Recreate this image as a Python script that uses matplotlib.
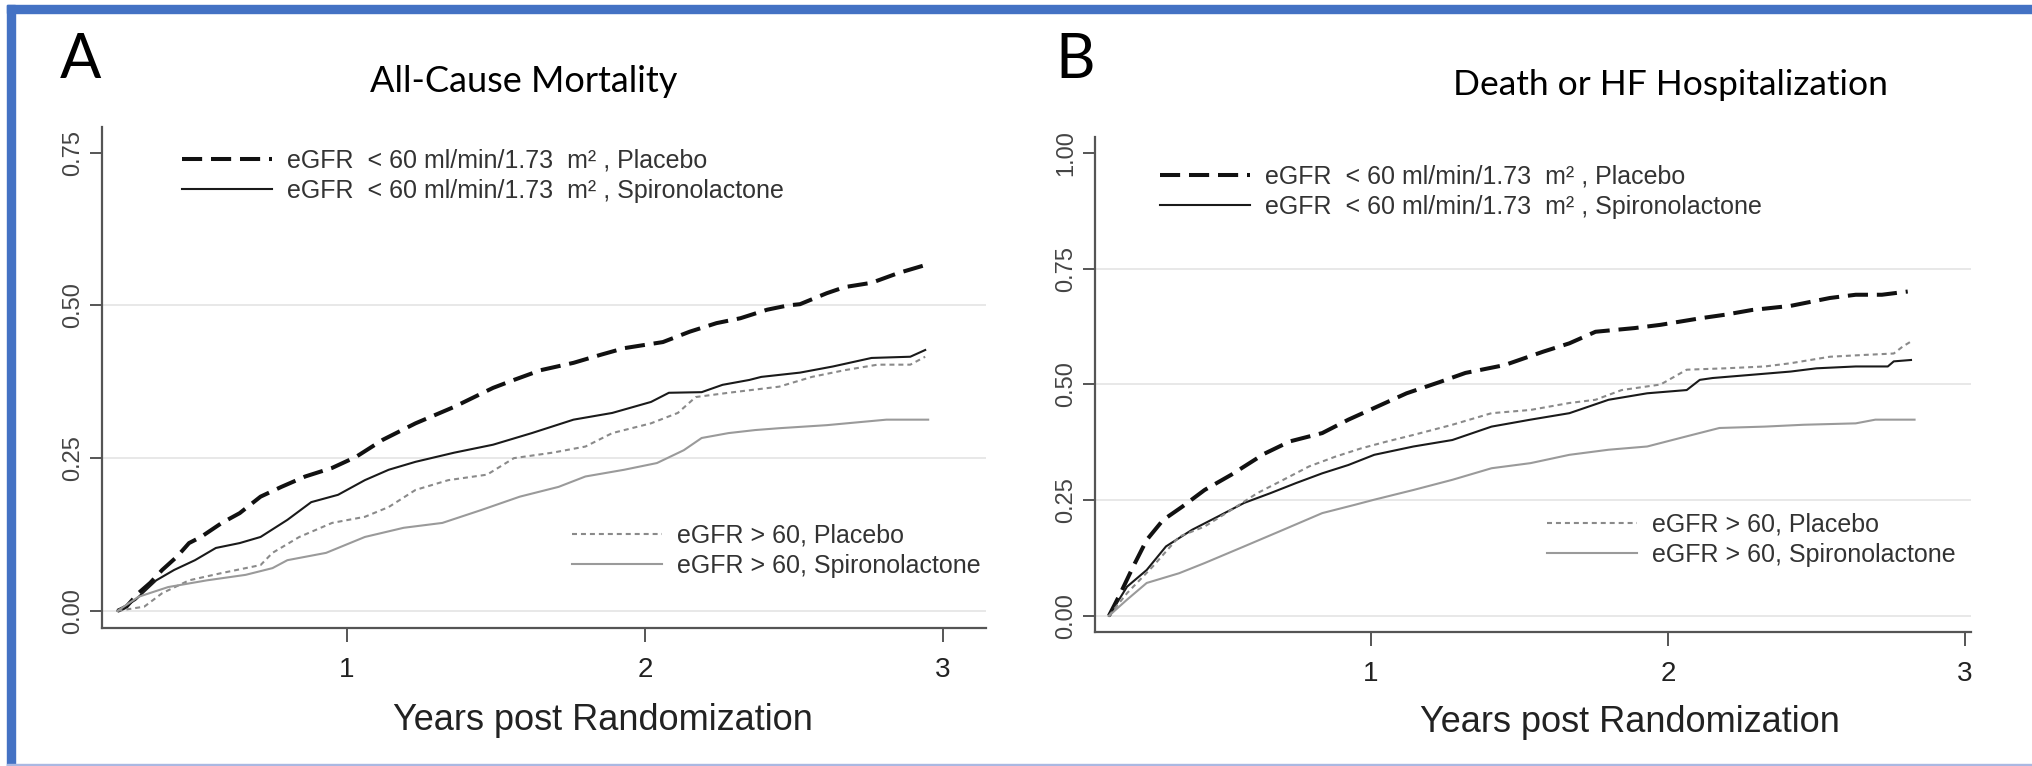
import matplotlib
matplotlib.use('Agg')
import matplotlib.pyplot as plt
from matplotlib.patches import Rectangle

# --- data (years, cumulative incidence) ---
# panel A: all-cause mortality
a_t_pl60 = [0.23, 0.26, 0.30, 0.34, 0.38, 0.43, 0.47, 0.51, 0.58, 0.64, 0.71, 0.78, 0.86, 0.95, 1.03, 1.12,
            1.23, 1.36, 1.49, 1.56, 1.65, 1.76, 1.85, 1.93, 2.06, 2.15, 2.24, 2.32, 2.41, 2.48, 2.52, 2.61,
            2.67, 2.76, 2.85, 2.94]
a_v_pl60 = [0, .007, .029, .046, .067, .089, .111, .121, .144, .16, .187, .203, .22, .234, .252, .28,
            .307, .334, .365, .378, .394, .406, .419, .43, .44, .457, .471, .479, .493, .50, .502, .52,
            .53, .537, .553, .566]
a_t_sp60 = [0.23, 0.29, 0.36, 0.42, 0.49, 0.56, 0.64, 0.71, 0.80, 0.88, 0.97, 1.06, 1.14, 1.23, 1.36, 1.49,
            1.62, 1.76, 1.89, 2.02, 2.08, 2.19, 2.26, 2.35, 2.39, 2.52, 2.63, 2.76, 2.89, 2.94]
a_v_sp60 = [0, .018, .05, .067, .083, .103, .111, .121, .149, .178, .19, .214, .231, .244, .259, .272,
            .291, .313, .324, .342, .357, .358, .37, .378, .383, .39, .40, .414, .416, .427]
a_t_plhi = [0.23, 0.32, 0.38, 0.47, 0.58, 0.71, 0.75, 0.84, 0.95, 1.06, 1.14, 1.23, 1.34, 1.47, 1.56, 1.69,
            1.80, 1.89, 2.02, 2.11, 2.17, 2.28, 2.45, 2.56, 2.67, 2.78, 2.89, 2.94]
a_v_plhi = [0, .007, .029, .05, .062, .075, .095, .121, .144, .154, .17, .198, .214, .223, .25, .259,
            .269, .291, .307, .324, .35, .357, .367, .383, .394, .403, .403, .416]
a_t_sphi = [0.23, 0.30, 0.40, 0.53, 0.66, 0.75, 0.80, 0.93, 1.06, 1.19, 1.32, 1.45, 1.58, 1.71, 1.80, 1.93,
            2.04, 2.13, 2.19, 2.28, 2.37, 2.45, 2.61, 2.81, 2.95]
a_v_sphi = [0, .023, .039, .05, .059, .07, .083, .095, .121, .136, .144, .165, .187, .203, .22, .231,
            .242, .263, .283, .291, .296, .299, .304, .313, .313]

# panel B: death or HF hospitalization
b_t_pl60 = [0.118, 0.157, 0.20, 0.245, 0.30, 0.365, 0.44, 0.53, 0.64, 0.727, 0.836, 0.924, 1.01, 1.12, 1.23,
            1.318, 1.45, 1.58, 1.668, 1.756, 1.888, 1.975, 2.107, 2.194, 2.282, 2.413, 2.545, 2.632, 2.72, 2.807]
b_v_pl60 = [0, .049, .107, .164, .207, .236, .272, .305, .35, .377, .395, .424, .449, .481, .505,
            .525, .542, .571, .589, .614, .622, .629, .643, .651, .661, .67, .687, .694, .694, .701]
b_t_sp60 = [0.118, 0.179, 0.245, 0.31, 0.398, 0.486, 0.573, 0.661, 0.748, 0.836, 0.924, 1.011, 1.143, 1.274,
            1.406, 1.537, 1.668, 1.80, 1.93, 2.063, 2.107, 2.15, 2.282, 2.413, 2.5, 2.632, 2.74, 2.76, 2.818]
b_v_sp60 = [0, .063, .099, .15, .186, .215, .244, .265, .287, .308, .326, .348, .366, .38,
            .409, .424, .438, .467, .481, .488, .51, .514, .521, .528, .535, .539, .539, .55, .553]
b_t_plhi = [0.118, 0.179, 0.266, 0.354, 0.44, 0.53, 0.617, 0.705, 0.792, 0.88, 0.967, 1.055, 1.143, 1.274,
            1.406, 1.537, 1.668, 1.756, 1.844, 1.975, 2.063, 2.194, 2.326, 2.413, 2.545, 2.632, 2.76, 2.79, 2.818]
b_v_plhi = [0, .049, .107, .171, .193, .229, .265, .294, .323, .344, .362, .377, .391, .413,
            .438, .445, .46, .467, .488, .50, .532, .535, .539, .546, .56, .563, .567, .582, .593]
b_t_sphi = [0.118, 0.179, 0.245, 0.354, 0.44, 0.573, 0.705, 0.836, 0.946, 1.011, 1.143, 1.274, 1.406, 1.537,
            1.668, 1.80, 1.93, 2.063, 2.173, 2.326, 2.457, 2.632, 2.698, 2.83]
b_v_sphi = [0, .035, .071, .092, .114, .15, .186, .222, .24, .251, .272, .294, .319, .33,
            .348, .359, .366, .388, .406, .409, .413, .416, .424, .424]

labels = ['eGFR  < 60 ml/min/1.73  m\u00b2 , Placebo',
          'eGFR  < 60 ml/min/1.73  m\u00b2 , Spironolactone',
          'eGFR > 60, Placebo',
          'eGFR > 60, Spironolactone']
xticks = [1, 2, 3]
a_yticks = [0, 0.25, 0.5, 0.75]
b_yticks = [0, 0.25, 0.5, 0.75, 1.0]

W, H = 2033, 766
fig = plt.figure(figsize=(W / 100, H / 100), dpi=100)
SANS = ['Liberation Sans', 'DejaVu Sans']
TITLEF = ['Lato', 'DejaVu Sans']


def fx(px):
    return px / W


def fy(py):
    return 1 - py / H


def panel(rect, curves, xlim, ylim, yticks, grid, leg1, leg2):
    ax = fig.add_axes(rect)
    for yv in grid:
        ax.axhline(yv, color='#e6e6e6', lw=1.3, zorder=0)
    l1, = ax.plot(curves[0][0], curves[0][1], color='#111111', lw=2.9, ls=(0, (5, 2.2)))
    l2, = ax.plot(curves[1][0], curves[1][1], color='#1a1a1a', lw=1.5)
    l3, = ax.plot(curves[2][0], curves[2][1], color='#8a8a8a', lw=1.5, ls=(0, (2.4, 1.9)))
    l4, = ax.plot(curves[3][0], curves[3][1], color='#9a9a9a', lw=1.5)
    ax.set_xlim(*xlim)
    ax.set_ylim(*ylim)
    for s in ['top', 'right']:
        ax.spines[s].set_visible(False)
    for s in ['left', 'bottom']:
        ax.spines[s].set_color('#555555')
        ax.spines[s].set_linewidth(1.6)
    ax.set_xticks(xticks)
    ax.set_xticklabels([str(x) for x in xticks], fontsize=20, family=SANS, color='#222222')
    ax.set_yticks(yticks)
    ax.set_yticklabels(['%.2f' % y for y in yticks], fontsize=17, family=SANS, color='#444444',
                       rotation=90, va='center')
    ax.tick_params(axis='x', length=10, width=1.4, color='#555555', pad=11)
    ax.tick_params(axis='y', length=9, width=1.4, color='#555555', pad=4)
    kw = dict(frameon=False, loc='center left', bbox_transform=fig.transFigure, borderpad=0,
              borderaxespad=0, handlelength=3.6, handletextpad=0.6, labelspacing=0.25,
              prop={'family': SANS, 'size': 18}, labelcolor='#333333')
    lg1 = ax.legend([l1, l2], labels[:2], bbox_to_anchor=(fx(leg1[0]), fy(leg1[1])), **kw)
    ax.add_artist(lg1)
    ax.legend([l3, l4], labels[2:], bbox_to_anchor=(fx(leg2[0]), fy(leg2[1])), **kw)
    return ax


panel([fx(102), fy(628), fx(986) - fx(102), fy(127) - fy(628)],
      [(a_t_pl60, a_v_pl60), (a_t_sp60, a_v_sp60), (a_t_plhi, a_v_plhi), (a_t_sphi, a_v_sphi)],
      (0.178, 3.144), (-0.028, 0.792), a_yticks, [0, 0.25, 0.5], (182, 176), (572, 551))
panel([fx(1095), fy(632), fx(1971) - fx(1095), fy(137) - fy(632)],
      [(b_t_pl60, b_v_pl60), (b_t_sp60, b_v_sp60), (b_t_plhi, b_v_plhi), (b_t_sphi, b_v_sphi)],
      (0.071, 3.02), (-0.035, 1.035), b_yticks, [0, 0.25, 0.5, 0.75], (1160, 192), (1547, 540))

# panel letters, titles, axis titles
fig.text(fx(81), fy(61), 'A', fontsize=44, family=TITLEF, ha='center', va='center')
fig.text(fx(1075), fy(61), 'B', fontsize=44, family=TITLEF, ha='center', va='center')
fig.text(fx(524), fy(82), 'All-Cause Mortality', fontsize=26, family=TITLEF, ha='center', va='center')
fig.text(fx(1670), fy(85), 'Death or HF Hospitalization', fontsize=25.5, family=TITLEF, ha='center', va='center')
fig.text(fx(603), fy(720), 'Years post Randomization', fontsize=26, family=SANS, color='#222222',
         ha='center', va='center')
fig.text(fx(1630), fy(723), 'Years post Randomization', fontsize=26, family=SANS, color='#222222',
         ha='center', va='center')

# blue frame
fig.patches.append(Rectangle((fx(7), fy(13)), 1 - fx(7), 8 / H, transform=fig.transFigure,
                             color='#4472c4', zorder=5))
fig.patches.append(Rectangle((fx(7), 0), 8 / W, fy(5), transform=fig.transFigure,
                             color='#4472c4', zorder=5))
fig.patches.append(Rectangle((fx(7), 0), 1 - fx(7), 2 / H, transform=fig.transFigure,
                             color='#aab8e2', zorder=5))

fig.savefig('out.png', dpi=100)
